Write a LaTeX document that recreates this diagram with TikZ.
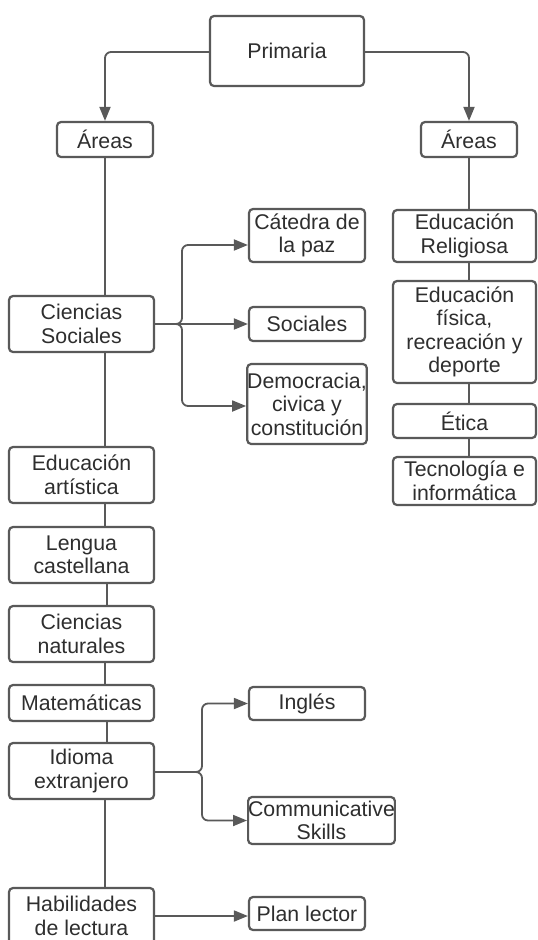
\documentclass[tikz,border=0pt]{standalone}
\usepackage{fontspec}
\setmainfont{Liberation Sans}
\usetikzlibrary{arrows.meta}
\definecolor{lineC}{HTML}{595959}
\definecolor{textC}{HTML}{2E2E2E}
\begin{document}
\begin{tikzpicture}[x=1pt,y=-1pt,
  box/.style={draw=lineC, line width=2.2pt, rounded corners=4pt, fill=white,
    inner sep=0pt, align=center, text=textC,
    font=\fontsize{21.3}{23.5}\selectfont},
  link/.style={draw=lineC, line width=1.8pt},
  arr/.style={link, rounded corners=6pt, -{Triangle[length=14pt,width=11pt]}}]
\path[use as bounding box] (0,0) rectangle (538,940);
\clip (0,0) rectangle (538,940);
\fill[white] (0,0) rectangle (538,940);

% nodes
\node[box, minimum width=154pt, minimum height=70pt] (prim) at (287,51) {Primaria};
\node[box, minimum width=96pt, minimum height=35pt] (areasL) at (105,139.5) {Áreas};
\node[box, minimum width=96pt, minimum height=35pt] (areasR) at (469,139.5) {Áreas};

\node[box, minimum width=145pt, minimum height=56pt] (cs) at (81.5,324) {Ciencias\\Sociales};
\node[box, minimum width=116pt, minimum height=53pt] (cat) at (307,235.5) {Cátedra de\\la paz};
\node[box, minimum width=116pt, minimum height=34pt] (soc) at (307,324) {Sociales};
\node[box, minimum width=116pt, minimum height=80pt] (dem) at (307,404) {Democracia,\\civica y\\constitución};

\node[box, minimum width=145pt, minimum height=56pt] (ea) at (81.5,475) {Educación\\artística};
\node[box, minimum width=145pt, minimum height=56pt] (lc) at (81.5,555) {Lengua\\castellana};
\node[box, minimum width=145pt, minimum height=56pt] (cn) at (81.5,634) {Ciencias\\naturales};
\node[box, minimum width=145pt, minimum height=36pt] (mat) at (81.5,703) {Matemáticas};
\node[box, minimum width=145pt, minimum height=56pt] (ie) at (81.5,771) {Idioma\\extranjero};
\node[box, minimum width=145pt, minimum height=56pt] (hl) at (81.5,916) {Habilidades\\de lectura};

\node[box, minimum width=116pt, minimum height=33pt] (ing) at (307,703.5) {Inglés};
\node[box, minimum width=145pt, minimum height=47pt] (com) at (321.5,820.5) {Communicative\\Skills};
\node[box, minimum width=116pt, minimum height=33pt] (pl) at (307,913.5) {Plan lector};

\node[box, minimum width=143pt, minimum height=52pt] (er) at (464.5,236) {Educación\\Religiosa};
\node[box, minimum width=143pt, minimum height=102pt] (ef) at (464.5,332) {Educación\\física,\\recreación y\\deporte};
\node[box, minimum width=143pt, minimum height=34pt] (et) at (464.5,421) {Ética};
\node[box, minimum width=143pt, minimum height=48pt] (tec) at (464.5,481) {Tecnología e\\informática};

% Primaria arrows
\draw[arr] ([yshift=-1pt]prim.west) -| (areasL.north);
\draw[arr] ([yshift=-1pt]prim.east) -| (areasR.north);

% left spine
\coordinate (sx) at (105,0);
\draw[link] (areasL.south) -- (sx |- cs.north);
\draw[link] (sx |- cs.south) -- (sx |- ea.north);
\draw[link] (sx |- ea.south) -- (sx |- lc.north);
\draw[link] ([xshift=2pt]sx |- lc.south) -- ([xshift=2pt]sx |- cn.north);
\draw[link] (sx |- cn.south) -- (sx |- mat.north);
\draw[link] ([xshift=2pt]sx |- mat.south) -- ([xshift=2pt]sx |- ie.north);
\draw[link] (sx |- ie.south) -- (sx |- hl.north);

% right spine
\coordinate (rx) at (469,0);
\draw[link] (areasR.south) -- (rx |- er.north);
\draw[link] (rx |- er.south) -- (rx |- ef.north);
\draw[link] (rx |- ef.south) -- (rx |- et.north);
\draw[link] (rx |- et.south) -- (rx |- tec.north);

% Ciencias Sociales branches
\coordinate (j1) at (182,324);
\draw[arr] (cs.east) -- (j1) |- ([yshift=-9.5pt]cat.west);
\draw[arr] (cs.east) -- (soc.west |- cs.east);
\draw[arr] (cs.east) -- (j1) |- ([yshift=-2pt]dem.west);

% Idioma branches
\coordinate (j2) at (202,772);
\draw[arr] ([yshift=-1pt]ie.east) -- (j2) |- (ing.west);
\draw[arr] ([yshift=-1pt]ie.east) -- (j2) |- (com.west);

% Habilidades
\draw[arr] (hl.east) -- (pl.west |- hl.east);
\end{tikzpicture}
\end{document}
